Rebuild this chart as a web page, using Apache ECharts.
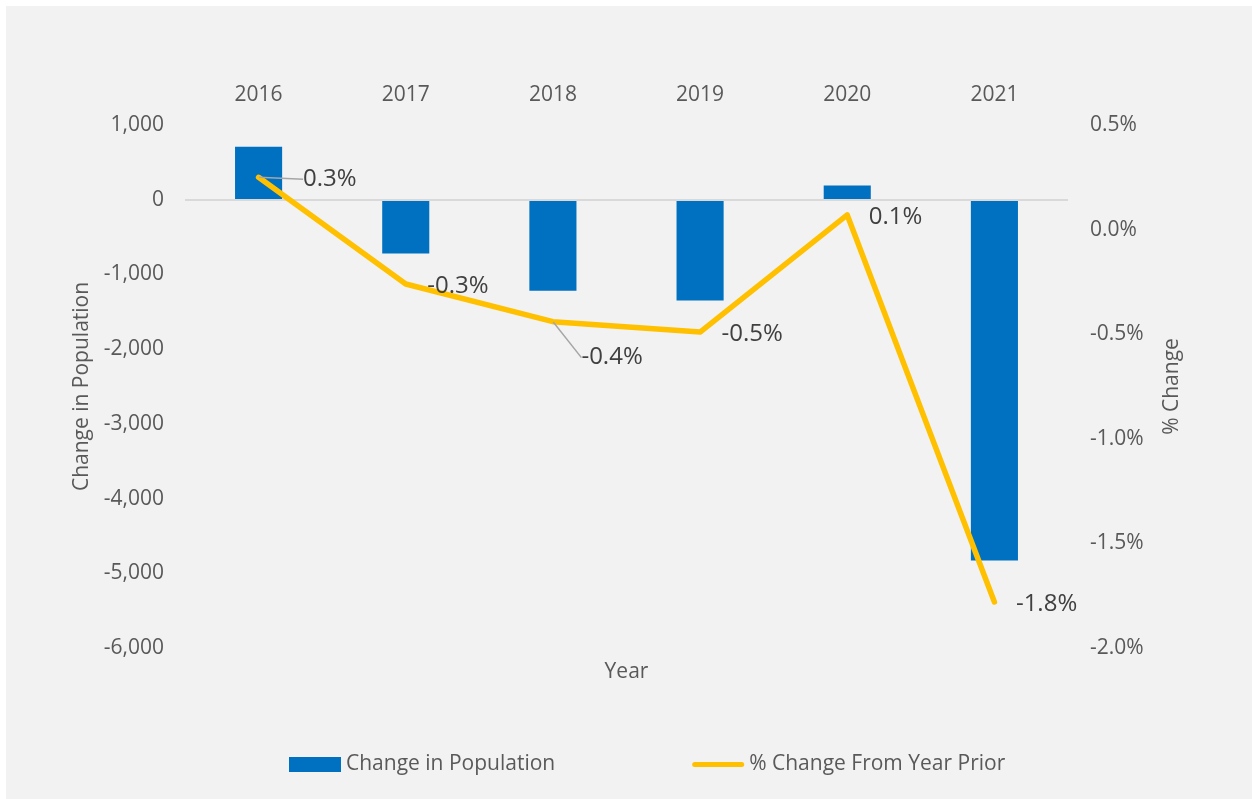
<!DOCTYPE html>
<html>
<head>
<meta charset="utf-8">
<script src="https://cdn.jsdelivr.net/npm/echarts@6/dist/echarts.min.js"></script>
<style>
    body { margin: 0; background: #fff; }
    #main { position: absolute; left: 6px; top: 6px; width: 1246px; height: 793px; }
</style>
</head>
<body>
<div id="main"></div>
<script>
    // data
    var years = ['2016', '2017', '2018', '2019', '2020', '2021'];
    var popChange = [710, -720, -1220, -1350, 190, -4830];
    var pctChange = [0.25, -0.26, -0.44, -0.49, 0.07, -1.78];

    var textColor = '#595959';
    var font = 'Open Sans';

    // labels that Excel moved away from the line (with a leader line)
    var movedLabels = {
        0: { dx: 24, dy: 0 },
        2: { dx: 8, dy: 34 }
    };

    var lineData = [];
    for (var i = 0; i < pctChange.length; i++) {
        var item = { value: pctChange[i] };
        if (movedLabels[i]) {
            item.labelLine = { show: true };
        }
        lineData.push(item);
    }

    var myChart = echarts.init(document.getElementById('main'));
    myChart.setOption({
        backgroundColor: '#f2f2f2',
        animation: false,
        textStyle: { fontFamily: font },
        grid: { left: 179, top: 119, width: 883, height: 523 },
        legend: {
            top: 743,
            left: 278,
            itemWidth: 52,
            itemHeight: 15,
            itemGap: 137,
            textStyle: { color: textColor, fontSize: 21, fontFamily: font },
            data: [
                { name: 'Change in Population', icon: 'rect' },
                { name: '% Change From Year Prior', icon: 'path://M2.5,0L49.5,0A2.5,2.5,0,0,1,49.5,5L2.5,5A2.5,2.5,0,0,1,2.5,0Z' }
            ]
        },
        xAxis: [{
            type: 'category',
            position: 'top',
            data: years,
            axisLine: { show: false },
            axisTick: { show: false },
            axisLabel: { color: textColor, fontSize: 21, margin: 19 }
        }, {
            type: 'category',
            position: 'bottom',
            data: years,
            name: 'Year',
            nameLocation: 'middle',
            nameGap: 14,
            nameTextStyle: { color: textColor, fontSize: 21, verticalAlign: 'top' },
            axisLine: { show: false },
            axisTick: { show: false },
            axisLabel: { show: false }
        }],
        yAxis: [{
            type: 'value',
            min: -6000,
            max: 1000,
            interval: 1000,
            name: 'Change in Population',
            nameLocation: 'middle',
            nameGap: 92,
            nameTextStyle: { color: textColor, fontSize: 21 },
            axisLine: { show: false },
            axisTick: { show: false },
            splitLine: { show: false },
            axisLabel: {
                color: textColor,
                fontSize: 21,
                margin: 21,
                formatter: function(v) {
                    return v.toLocaleString('en-US');
                }
            }
        }, {
            type: 'value',
            min: -2.0,
            max: 0.5,
            interval: 0.5,
            name: '% Change',
            nameLocation: 'middle',
            nameGap: 94,
            nameTextStyle: { color: textColor, fontSize: 21 },
            axisLine: { show: false },
            axisTick: { show: false },
            splitLine: { show: false },
            axisLabel: {
                color: textColor,
                fontSize: 21,
                margin: 22,
                formatter: function(v) {
                    return v.toFixed(1) + '%';
                }
            }
        }],
        series: [{
            name: 'Change in Population',
            type: 'bar',
            data: popChange,
            barWidth: '32%',
            itemStyle: { color: '#0070c0' },
            markLine: {
                silent: true,
                symbol: ['none', 'none'],
                label: { show: false },
                lineStyle: { color: '#d9d9d9', width: 2, type: 'solid' },
                data: [{ yAxis: 0 }]
            }
        }, {
            name: '% Change From Year Prior',
            type: 'line',
            yAxisIndex: 1,
            data: lineData,
            symbol: 'circle',
            symbolSize: 1,
            showSymbol: true,
            z: 5,
            itemStyle: { color: '#ffc000' },
            lineStyle: { color: '#ffc000', width: 5.5, cap: 'round', join: 'round' },
            label: {
                show: true,
                position: 'right',
                distance: 21,
                color: '#404040',
                fontSize: 24,
                formatter: function(p) {
                    return p.value.toFixed(1) + '%';
                }
            },
            labelLine: {
                show: false,
                lineStyle: { color: '#a6a6a6', width: 1.5 }
            },
            labelLayout: function(params) {
                var m = movedLabels[params.dataIndex];
                if (m) {
                    return { dx: m.dx - 1, dy: m.dy + 2 };
                }
                return { dy: 2 };
            }
        }]
    });
</script>
</body>
</html>
